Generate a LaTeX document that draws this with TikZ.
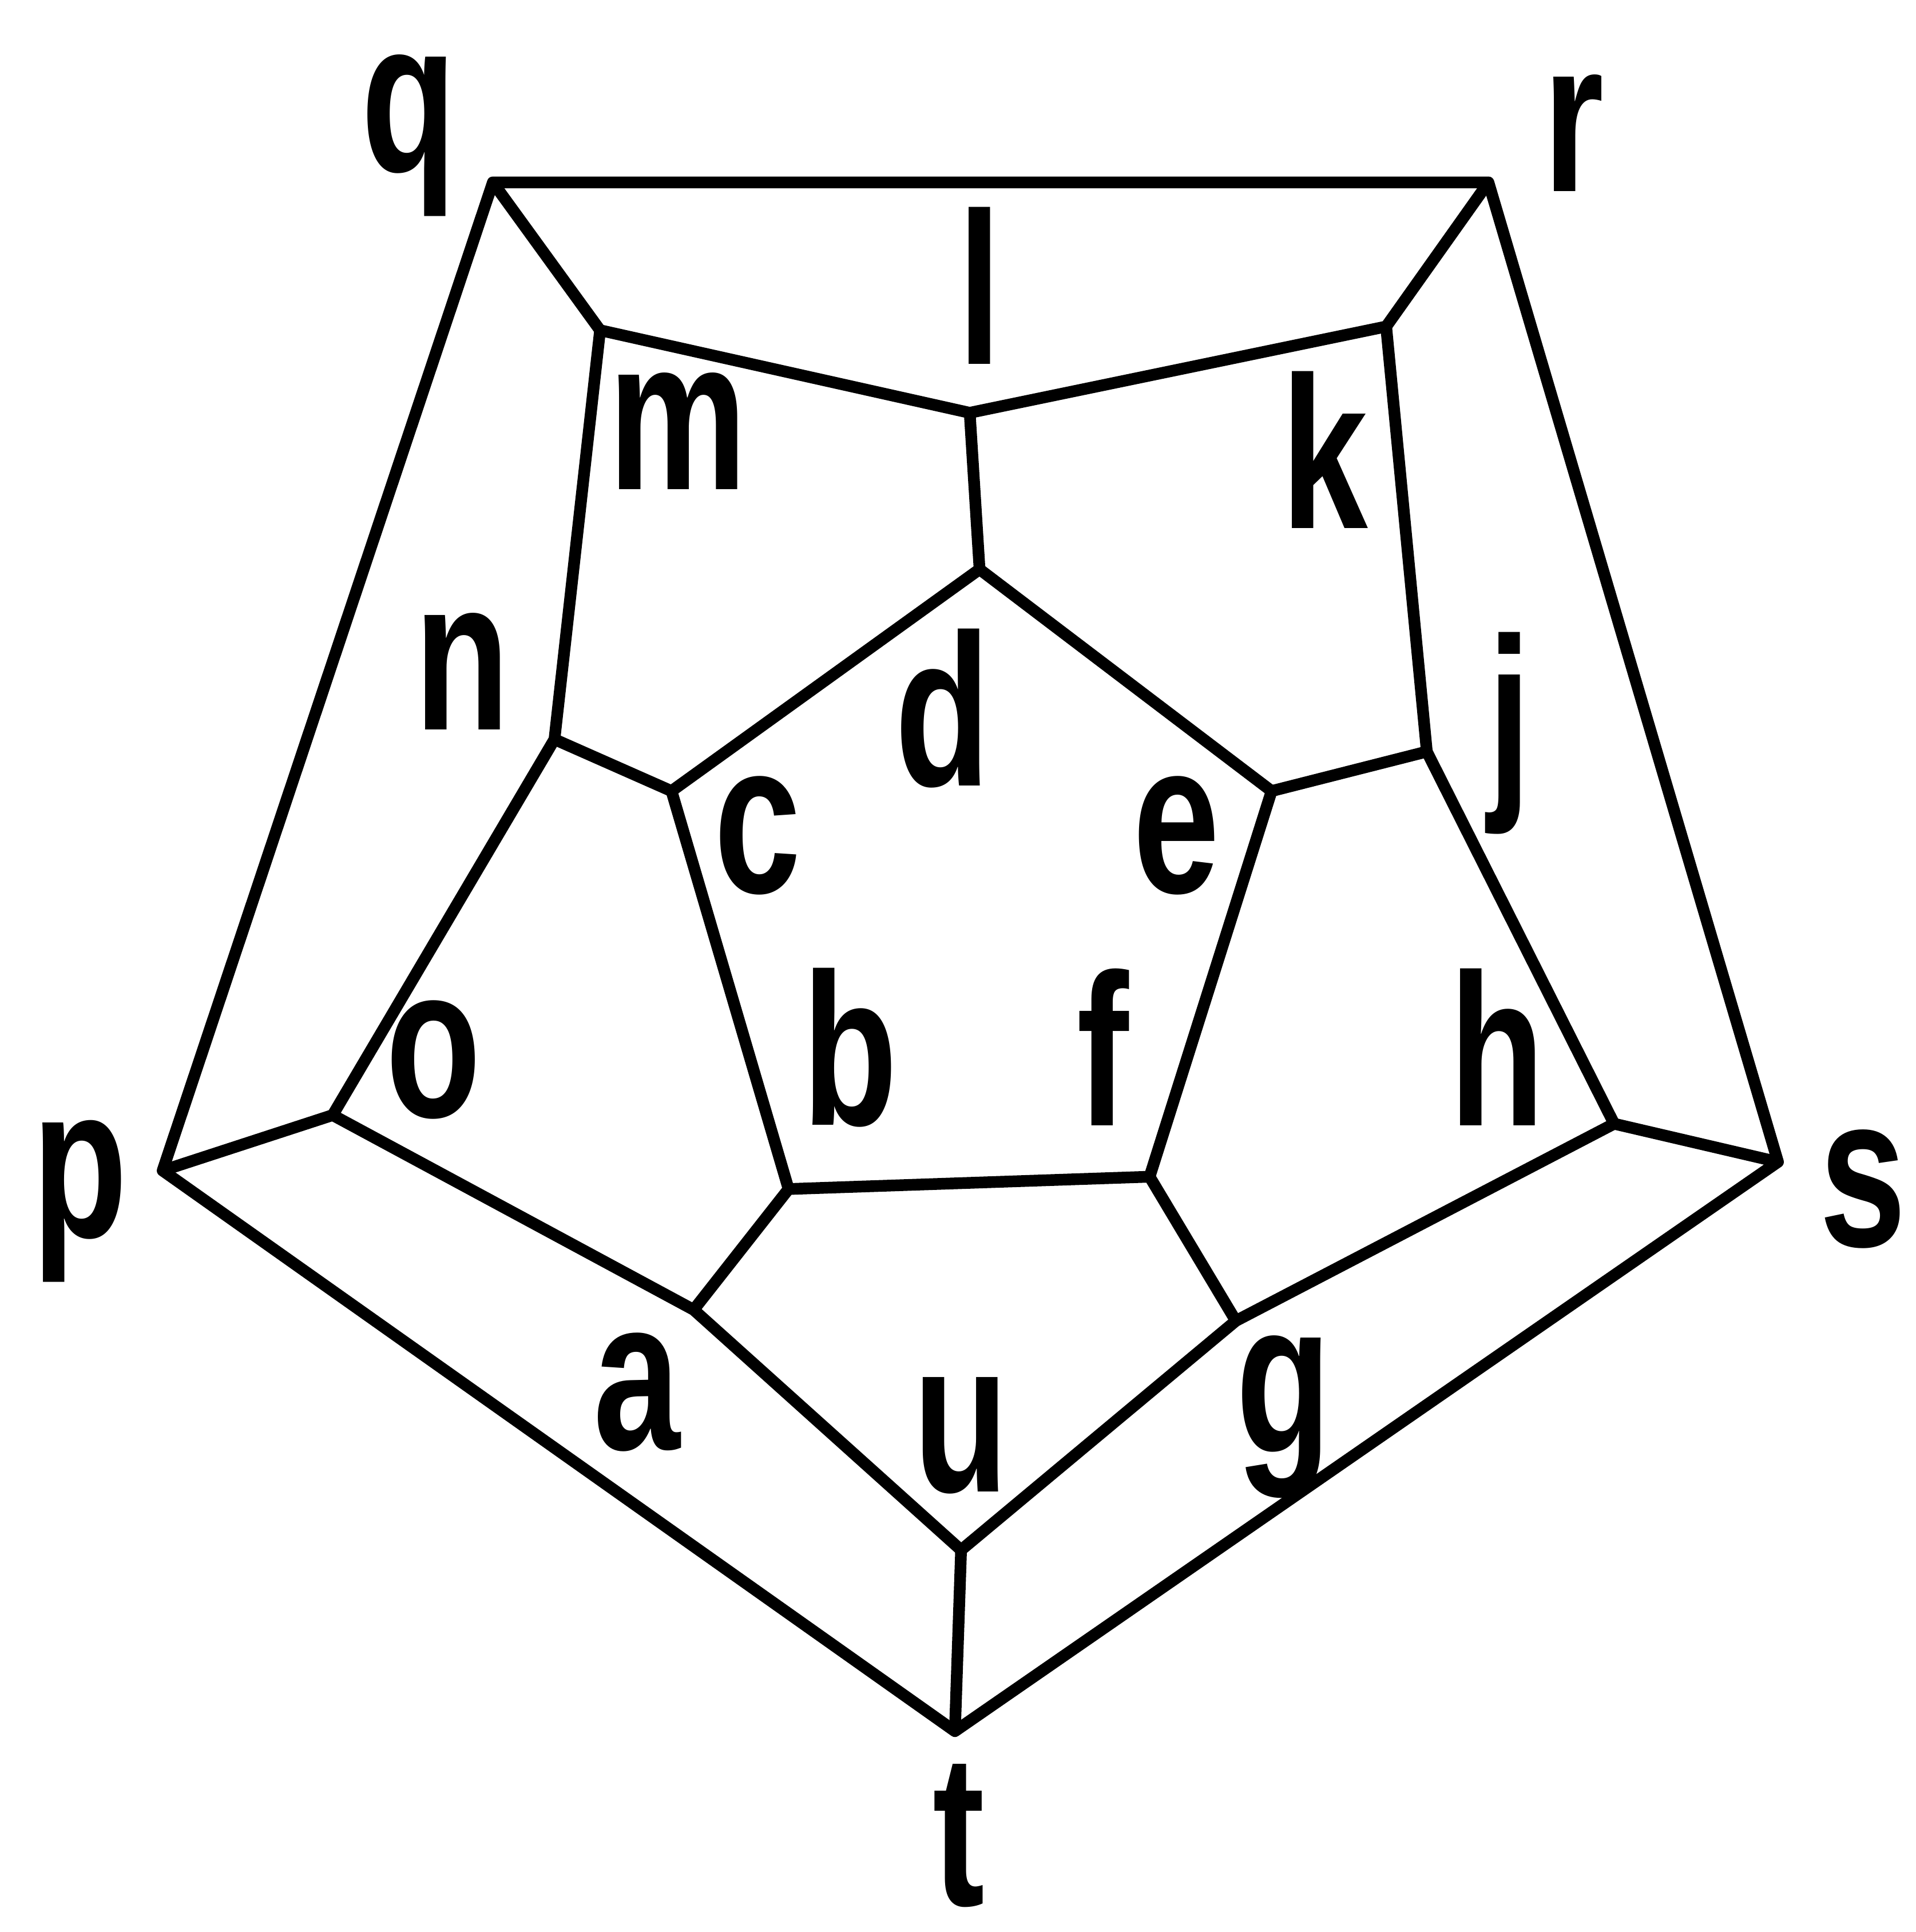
\documentclass[tikz,border=0pt]{standalone}
\usepackage{fontspec}
\newfontfamily\lblfont[FakeStretch=0.72]{Liberation Sans}
\usetikzlibrary{positioning}

\begin{document}
\begin{tikzpicture}[
    x=0.01cm, y=-0.01cm,
    edge/.style={line width=2.7pt, line join=round},
    lbl/.style={font=\lblfont\bfseries\fontsize{50}{50}\selectfont, inner sep=0pt}
]
\useasboundingbox (0,0) rectangle (1555,1568);

% --- Vértices exteriores ---
\coordinate (P) at (132,950);
\coordinate (Q) at (400,148);
\coordinate (R) at (1208,148);
\coordinate (S) at (1443,943);
\coordinate (T) at (775,1405);

% --- Anillo intermedio ---
\coordinate (O) at (270,905);
\coordinate (N) at (450,600);
\coordinate (M) at (487,268);
\coordinate (L) at (787,335);
\coordinate (K) at (1125,265);
\coordinate (J) at (1158,610);
\coordinate (H) at (1310,912);
\coordinate (G) at (1003,1072);
\coordinate (U) at (780,1258);
\coordinate (A) at (563,1063);

% --- Pentágono interior ---
\coordinate (D) at (795,462);
\coordinate (E) at (1032,642);
\coordinate (F) at (933,955);
\coordinate (B) at (640,965);
\coordinate (C) at (545,642);

% --- Aristas ---
\draw[edge] (P) -- (Q) -- (R) -- (S) -- (T) -- cycle;
\draw[edge] (O) -- (N) -- (M) -- (L) -- (K) -- (J) -- (H) -- (G) -- (U) -- (A) -- cycle;
\draw[edge] (D) -- (E) -- (F) -- (B) -- (C) -- cycle;
\draw[edge] (P) -- (O);
\draw[edge] (Q) -- (M);
\draw[edge] (R) -- (K);
\draw[edge] (S) -- (H);
\draw[edge] (T) -- (U);
\draw[edge] (N) -- (C);
\draw[edge] (L) -- (D);
\draw[edge] (J) -- (E);
\draw[edge] (G) -- (F);
\draw[edge] (A) -- (B);

% --- Etiquetas ---
\node[lbl] (lq) at (332,110) {q};
\node[lbl] (lr) at (1277,108) {r};
\node[lbl] (ll) at (795,232) {l};
\node[lbl] (lm) at (550,350) {m};
\node[lbl] (lk) at (1075,365) {k};
\node[lbl] (ln) at (375,545) {n};
\node[lbl] (lj) at (1225,595) {j};
\node[lbl] (ld) at (765,575) {d};
\node[lbl] (lc) at (615,678) {c};
\node[lbl] (le) at (955,678) {e};
\node[lbl] (lo) at (352,860) {o};
\node[lbl] (lb) at (690,850) {b};
\node[lbl] (lf) at (895,850) {f};
\node[lbl] (lh) at (1215,850) {h};
\node[lbl] (lp) at (65,975) {p};
\node[lbl] (ls) at (1512,965) {s};
\node[lbl] (la) at (517,1130) {a};
\node[lbl] (lu) at (780,1165) {u};
\node[lbl] (lg) at (1042,1150) {g};
\node[lbl] (lt) at (778,1490) {t};

\end{tikzpicture}
\end{document}
